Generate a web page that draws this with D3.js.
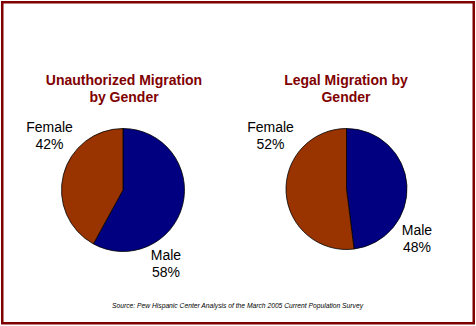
<!DOCTYPE html>
<html>
<head>
<meta charset="utf-8">
<script src="https://cdn.jsdelivr.net/npm/d3@7"></script>
<style>
html,body{margin:0;padding:0;background:#fff;}
svg{display:block;}
text{font-family:Arial,"Liberation Sans",sans-serif;}
</style>
</head>
<body>
<svg id="chart" width="476" height="326"></svg>
<script>
const categories = ["Male", "Female"];
const unauthorizedValues = [58, 42];
const legalValues = [48, 52];
const chartTitles = [["Unauthorized Migration", "by Gender"], ["Legal Migration by", "Gender"]];
const sourceNote = "Source: Pew Hispanic Center Analysis of the March 2005 Current Population Survey";

const colors = d3.scaleOrdinal().domain(categories).range(["#000080", "#993300"]);
const svg = d3.select("#chart");

svg.append("rect").attr("x", 2.25).attr("y", 2.25).attr("width", 471.5).attr("height", 321)
  .attr("fill", "#fff").attr("stroke", "#800000").attr("stroke-width", 2.5);

const pies = [
  {values: unauthorizedValues, title: chartTitles[0], cx: 123, cy: 190, r: 61.5, titleX: 124,
   labels: {Female: [49.5, 131.5], Male: [166, 259.5]}},
  {values: legalValues, title: chartTitles[1], cx: 346.5, cy: 189, r: 60.5, titleX: 346,
   labels: {Female: [270.5, 131.5], Male: [417, 235]}}
];

const pie = d3.pie().sort(null).value(d => d.v);

pies.forEach(p => {
  const data = categories.map((c, i) => ({c, v: p.values[i]}));
  const arc = d3.arc().innerRadius(0).outerRadius(p.r);
  const g = svg.append("g").attr("transform", `translate(${p.cx},${p.cy})`);
  g.selectAll("path").data(pie(data)).join("path")
    .attr("d", arc).attr("fill", d => colors(d.data.c))
    .attr("stroke", "#000").attr("stroke-width", 0.8);

  svg.append("g").selectAll("text").data(p.title).join("text")
    .attr("x", p.titleX).attr("y", (d, i) => 85 + i * 16.5)
    .attr("text-anchor", "middle").attr("font-size", 14).attr("font-weight", "bold")
    .attr("fill", "#800000").text(d => d);

  data.forEach(d => {
    const [lx, ly] = p.labels[d.c];
    const t = svg.append("text").attr("text-anchor", "middle").attr("font-size", 14)
      .attr("fill", "#000");
    t.append("tspan").attr("x", lx).attr("y", ly).text(d.c);
    t.append("tspan").attr("x", lx).attr("y", ly + 17).text(d3.format("d")(d.v) + "%");
  });
});

svg.append("text").attr("x", 237.5).attr("y", 307.5).attr("text-anchor", "middle")
  .attr("font-size", 7).attr("font-style", "italic").attr("fill", "#000")
  .attr("textLength", 251).attr("lengthAdjust", "spacingAndGlyphs")
  .text(sourceNote);
</script>
</body>
</html>
